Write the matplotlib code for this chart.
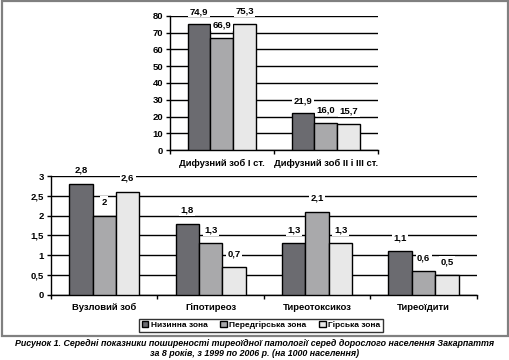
import numpy as np
import matplotlib.pyplot as plt
from matplotlib.patches import Rectangle

plt.rcParams['font.family'] = ['Liberation Sans', 'DejaVu Sans']
plt.rcParams['font.weight'] = 'bold'

zones = ['Низинна зона', 'Передгірська зона', 'Гірська зона']
colors = ['#6b6b70', '#a9a9ab', '#e8e8e8']

top_cats = ['Дифузний зоб I ст.', 'Дифузний зоб II і III ст.']
top_low = [74.9, 21.9]
top_foot = [66.9, 16.0]
top_mount = [75.3, 15.7]

bot_cats = ['Вузловий зоб', 'Гіпотиреоз', 'Тиреотоксикоз', 'Тиреоїдити']
bot_low = [2.8, 1.8, 1.3, 1.1]
bot_foot = [2.0, 1.3, 2.1, 0.6]
bot_mount = [2.6, 0.7, 1.3, 0.5]

caption = ('Рисунок 1. Середні показники поширеності тиреоїдної патології серед дорослого населення Закарпаття\n'
           'за 8 років, з 1999 по 2006 р. (на 1000 населення)')

fs = 6.8
w = 0.22


def draw(ax, cats, series, ticks, ticklabels, fmt, off):
    x = np.arange(len(cats))
    ax.set_axisbelow(True)
    ax.yaxis.grid(True, color='black', lw=1.0)
    bars = []
    for k, vals in enumerate(series):
        b = ax.bar(x + (k - 1) * w, vals, w, color=colors[k], edgecolor='black', lw=1.0, zorder=3)
        bars.append(b)
        for xi, v in zip(x + (k - 1) * w, vals):
            ax.annotate(fmt(v), (xi, v), xytext=(0, off), textcoords='offset points',
                        ha='center', va='bottom', fontsize=fs, fontweight='bold', zorder=5,
                        bbox=dict(boxstyle='square,pad=0.15', fc='white', ec='none'))
    ax.set_xlim(-0.5, len(cats) - 0.5)
    ax.set_ylim(ticks[0], ticks[-1])
    ax.set_yticks(ticks)
    ax.set_yticklabels(ticklabels, fontsize=fs, fontweight='bold')
    ax.set_xticks(x)
    ax.set_xticklabels(cats, fontsize=fs, fontweight='bold')
    ax.tick_params(axis='x', which='major', length=0, pad=6)
    ax.set_xticks(np.arange(len(cats) + 1) - 0.5, minor=True)
    ax.tick_params(axis='x', which='minor', length=3, width=1)
    ax.tick_params(axis='y', length=3, width=1, pad=2)
    for s in ['top', 'right']:
        ax.spines[s].set_visible(False)
    for s in ['left', 'bottom']:
        ax.spines[s].set_linewidth(1.0)
    return bars


fig = plt.figure(figsize=(5.1, 3.6), dpi=100)
fig.patches.append(Rectangle((0.003, 0.066), 0.994, 0.931, transform=fig.transFigure,
                             fill=False, edgecolor='#808080', lw=1.6))

ax1 = fig.add_axes([0.333, 0.583, 0.408, 0.373])
draw(ax1, top_cats, [top_low, top_foot, top_mount], list(range(0, 81, 10)),
     [str(t) for t in range(0, 81, 10)], lambda v: ('%.1f' % v).replace('.', ','), 6)

ax2 = fig.add_axes([0.100, 0.181, 0.835, 0.330])
bticks = [0, 0.5, 1, 1.5, 2, 2.5, 3]
bars = draw(ax2, bot_cats, [bot_low, bot_foot, bot_mount], bticks,
            [('%g' % t).replace('.', ',') for t in bticks], lambda v: ('%g' % v).replace('.', ','), 6.5)
for a in (ax1, ax2):
    for t in a.texts:
        t.set_clip_on(False)

leg = fig.legend(bars, zones, loc='center', bbox_to_anchor=(0.512, 0.097), ncol=3,
                 fontsize=6, frameon=True, fancybox=False, edgecolor='black',
                 handlelength=0.8, handleheight=0.8, handletextpad=0.3, columnspacing=1.5,
                 borderpad=0.3)
leg.get_frame().set_linewidth(1.0)

fig.text(0.5, 0.032, caption, ha='center', va='center', fontsize=6.4, fontweight='bold',
         style='italic', linespacing=1.15)

fig.savefig('out.png', dpi=100)
